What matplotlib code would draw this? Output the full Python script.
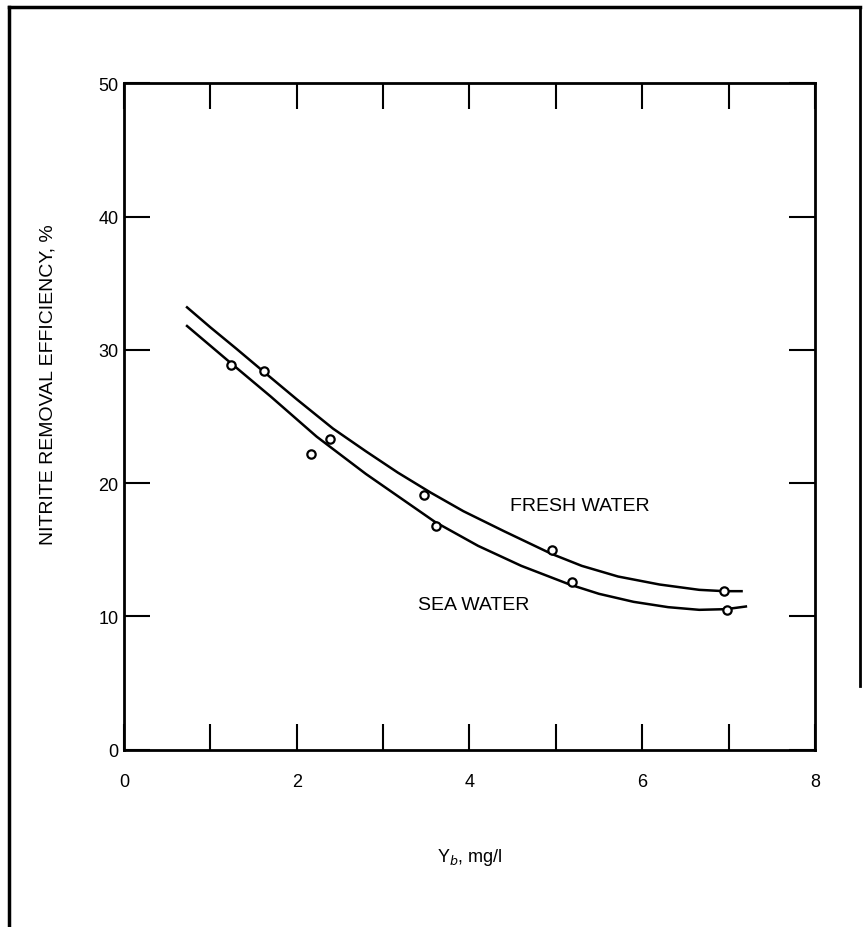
import matplotlib
matplotlib.use("Agg")
import matplotlib.pyplot as plt
from matplotlib.lines import Line2D

plt.rcParams['font.family'] = ['Liberation Sans', 'DejaVu Sans']

# Data
fresh_pts_x = [1.62, 2.39, 3.47, 4.96, 6.95]
fresh_pts_y = [28.4, 23.3, 19.1, 15.0, 11.9]
sea_pts_x = [1.24, 2.16, 3.61, 5.19, 6.98]
sea_pts_y = [28.9, 22.2, 16.8, 12.6, 10.5]

fresh_curve_x = [0.73, 1.0, 1.3, 1.63, 2.0, 2.42, 2.8, 3.17, 3.55, 3.93, 4.4, 4.95, 5.3, 5.72, 6.2, 6.66, 6.95, 7.15]
fresh_curve_y = [33.2, 31.7, 30.1, 28.3, 26.3, 24.1, 22.4, 20.8, 19.3, 17.9, 16.4, 14.7, 13.8, 13.0, 12.4, 12.0, 11.9, 11.9]
sea_curve_x = [0.73, 1.24, 1.7, 2.23, 2.8, 3.2, 3.6, 4.1, 4.6, 5.16, 5.5, 5.9, 6.3, 6.66, 6.97, 7.2]
sea_curve_y = [31.8, 29.0, 26.5, 23.5, 20.7, 18.9, 17.1, 15.3, 13.8, 12.4, 11.7, 11.1, 10.7, 10.5, 10.55, 10.75]

x_ticks = [0, 1, 2, 3, 4, 5, 6, 7, 8]
x_ticklabels = ['0', '', '2', '', '4', '', '6', '', '8']
y_ticks = [0, 10, 20, 30, 40, 50]
y_ticklabels = ['0', '10', '20', '30', '40', '50']

fig = plt.figure(figsize=(8.67, 9.28), dpi=100)
ax = fig.add_axes([0.143, 0.191, 0.797, 0.718])

ax.plot(fresh_curve_x, fresh_curve_y, color='black', lw=1.8, solid_joinstyle='round')
ax.plot(sea_curve_x, sea_curve_y, color='black', lw=1.8, solid_joinstyle='round')
ax.plot(fresh_pts_x, fresh_pts_y, 'o', mfc='white', mec='black', mew=1.6, ms=6)
ax.plot(sea_pts_x, sea_pts_y, 'o', mfc='white', mec='black', mew=1.6, ms=6)

ax.text(4.47, 18.3, 'FRESH WATER', fontsize=14, va='center', ha='left')
ax.text(3.40, 10.9, 'SEA WATER', fontsize=14, va='center', ha='left')

ax.set_xlim(0, 8)
ax.set_ylim(0, 50)
ax.set_xticks(x_ticks)
ax.set_xticklabels(x_ticklabels)
ax.set_yticks(y_ticks)
ax.set_yticklabels(y_ticklabels)
ax.tick_params(axis='x', direction='in', length=19, width=1.5, top=True, bottom=True,
               labelsize=13, pad=17)
ax.tick_params(axis='y', direction='in', length=19, width=1.5, left=True, right=True,
               labelsize=13, pad=4)
for s in ax.spines.values():
    s.set_linewidth(2.0)

ax.set_xlabel('Y$_b$, mg/l', fontsize=13)
ax.xaxis.set_label_coords(0.5, -0.145)
ax.set_ylabel('NITRITE REMOVAL EFFICIENCY, %', fontsize=14)
ax.yaxis.set_label_coords(-0.097, 0.55)

# figure frame
fig.add_artist(Line2D([0.010, 0.010], [0.0, 0.991], transform=fig.transFigure, color='black', lw=2.5))
fig.add_artist(Line2D([0.010, 0.992], [0.991, 0.991], transform=fig.transFigure, color='black', lw=2.5))
fig.add_artist(Line2D([0.992, 0.992], [0.991, 0.26], transform=fig.transFigure, color='black', lw=2.0))

fig.savefig('out.png', dpi=100)
